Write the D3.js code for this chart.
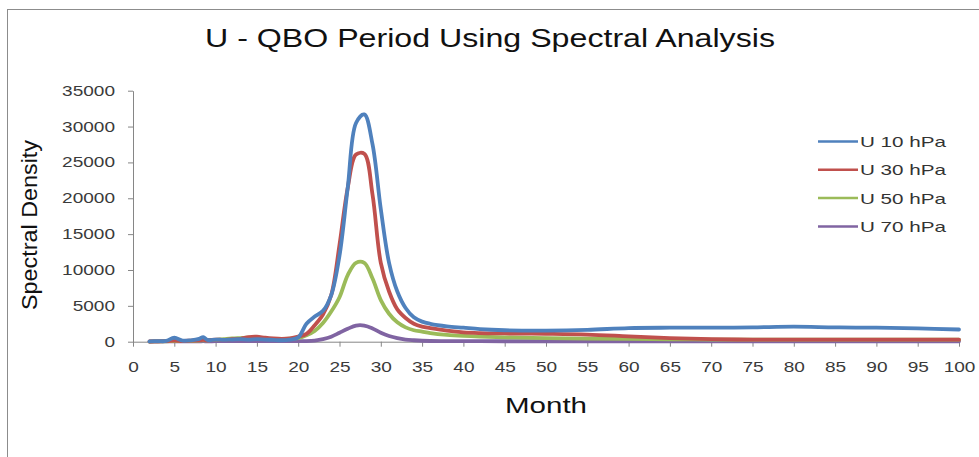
<!DOCTYPE html>
<html>
<head>
<meta charset="utf-8">
<script src="https://cdn.jsdelivr.net/npm/d3@7/dist/d3.min.js"></script>
<style>
  html, body { margin: 0; padding: 0; background: #fff; }
  svg { display: block; font-family: "Liberation Sans", Arial, sans-serif; }
</style>
</head>
<body>
<svg id="chart" width="979" height="457"></svg>
<script>
// ---------- data ----------
const months = [2, 3, 4, 5, 6, 7, 8, 8.5, 9, 10, 11, 12, 13, 14, 15, 16, 17, 18, 19, 20,
  21, 22, 23, 24, 25, 26, 27, 28, 29, 30, 31, 32, 33, 34, 35, 36, 38, 40, 42, 45,
  50, 55, 60, 65, 70, 75, 80, 85, 90, 95, 100];

const u10 = [50, 80, 100, 550, 150, 200, 400, 650, 250, 300, 250, 300, 350, 300, 350, 300, 250, 200, 300, 600,
  2500, 3500, 4300, 6500, 12000, 21500, 30500, 31700, 27500, 18500, 11000, 7000, 4700, 3400, 2800, 2500, 2150, 1950, 1750, 1600,
  1550, 1650, 1900, 1950, 1950, 2000, 2100, 2000, 1950, 1850, 1700];

const u30 = [30, 50, 80, 150, 100, 150, 200, 250, 200, 300, 250, 350, 400, 650, 700, 550, 450, 400, 450, 700,
  1100, 2300, 3800, 6500, 13500, 21500, 26100, 26200, 20500, 11000, 7000, 4500, 3300, 2500, 2100, 1900, 1550, 1300, 1200, 1150,
  1100, 1000, 750, 500, 350, 300, 300, 300, 300, 280, 280];

const u50 = [20, 40, 60, 100, 80, 120, 150, 200, 200, 250, 350, 450, 500, 550, 450, 400, 380, 400, 420, 500,
  900, 1500, 2600, 4200, 6200, 9300, 11000, 11000, 8800, 5800, 3900, 2700, 2000, 1600, 1400, 1200, 950, 800, 700, 600,
  500, 420, 380, 330, 300, 290, 290, 280, 280, 280, 280];

const u70 = [20, 30, 40, 50, 50, 60, 60, 70, 60, 70, 70, 80, 80, 90, 90, 80, 80, 80, 80, 80,
  80, 150, 350, 700, 1250, 1800, 2250, 2250, 1850, 1250, 800, 500, 300, 200, 130, 100, 80, 70, 70, 60,
  60, 60, 60, 60, 50, 50, 50, 50, 50, 50, 50];

const seriesNames = ["U 10 hPa", "U 30 hPa", "U 50 hPa", "U 70 hPa"];
const seriesColors = ["#4F81BD", "#C0504D", "#9BBB59", "#8064A2"];
const seriesValues = [u10, u30, u50, u70];

const yTicks = [0, 5000, 10000, 15000, 20000, 25000, 30000, 35000];
const xTicks = d3.range(0, 101, 5);

const titleText = "U - QBO Period Using Spectral Analysis";
const xTitle = "Month";
const yTitle = "Spectral Density";

// ---------- drawing ----------
const svg = d3.select("#chart");

function stretch(sel, k) {
  sel.each(function () {
    const w = this.getComputedTextLength();
    this.setAttribute("textLength", w * k);
    this.setAttribute("lengthAdjust", "spacingAndGlyphs");
  });
}
function fitTo(sel, w) {
  sel.attr("textLength", w).attr("lengthAdjust", "spacingAndGlyphs");
}

// outer chart-area border (extends past right/bottom edge)
svg.append("rect")
  .attr("x", 7.5).attr("y", 9.5)
  .attr("width", 1100).attr("height", 600)
  .attr("fill", "#fff").attr("stroke", "#8c8c8c").attr("stroke-width", 1);

const x = d3.scaleLinear().domain([0, 100]).range([133, 959]);
const y = d3.scaleLinear().domain([0, 35000]).range([341.7, 90.7]);

// y axis
const gy = svg.append("g").attr("transform", "translate(133,0)")
  .call(d3.axisLeft(y).tickValues(yTicks).tickFormat(d3.format("d"))
    .tickSize(5).tickSizeOuter(0).tickPadding(13));
gy.select(".domain").attr("stroke", "#868686");
gy.selectAll(".tick line").attr("stroke", "#868686");
gy.selectAll(".tick text").attr("font-size", 14).attr("fill", "#3a3a3a")
  .attr("font-family", "Liberation Sans, Arial, sans-serif");
stretch(gy.selectAll(".tick text"), 1.36);

// x axis
const gx = svg.append("g").attr("transform", "translate(0,341.7)")
  .call(d3.axisBottom(x).tickValues(xTicks).tickFormat(d3.format("d"))
    .tickSize(5).tickSizeOuter(0).tickPadding(15));
gx.select(".domain").attr("stroke", "#868686");
gx.selectAll(".tick line").attr("stroke", "#868686");
gx.selectAll(".tick text").attr("font-size", 14).attr("fill", "#3a3a3a")
  .attr("font-family", "Liberation Sans, Arial, sans-serif");
stretch(gx.selectAll(".tick text"), 1.36);

// lines
const line = d3.line()
  .x((d, i) => x(months[i]))
  .y(d => y(d))
  .curve(d3.curveCatmullRom.alpha(0.5));

// draw in reverse so the blue sits on top like the reference
seriesValues.slice().reverse().forEach((vals, ri) => {
  const i = seriesValues.length - 1 - ri;
  svg.append("path")
    .datum(vals)
    .attr("d", line)
    .attr("fill", "none")
    .attr("stroke", seriesColors[i])
    .attr("stroke-width", 3.8)
    .attr("stroke-linejoin", "round")
    .attr("stroke-linecap", "round");
});

// title
fitTo(svg.append("text")
  .attr("x", 490).attr("y", 46.7)
  .attr("text-anchor", "middle")
  .attr("font-size", 26.5).attr("fill", "#111")
  .text(titleText), 570);

// x title
fitTo(svg.append("text")
  .attr("x", 546).attr("y", 413)
  .attr("text-anchor", "middle")
  .attr("font-size", 22).attr("fill", "#111")
  .text(xTitle), 82);

// y title
fitTo(svg.append("text")
  .attr("transform", "translate(37,225) rotate(-90)")
  .attr("text-anchor", "middle")
  .attr("font-size", 22).attr("fill", "#111")
  .text(yTitle), 170);

// legend
const lg = svg.append("g");
seriesNames.forEach((name, i) => {
  const ry = 141.5 + i * 28.3;
  lg.append("line")
    .attr("x1", 818).attr("x2", 858)
    .attr("y1", ry).attr("y2", ry)
    .attr("stroke", seriesColors[i]).attr("stroke-width", 2.5);
  const t = lg.append("text")
    .attr("x", 860).attr("y", ry + 5.5)
    .attr("font-size", 15).attr("fill", "#333")
    .text(name);
  fitTo(t, 86);
});
</script>
</body>
</html>
